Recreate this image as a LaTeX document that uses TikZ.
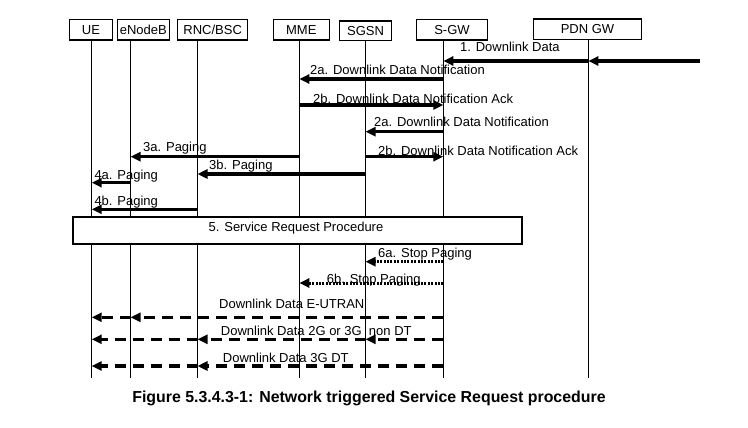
\documentclass[tikz,border=0pt]{standalone}
\usepackage{fontspec}
\setmainfont{Liberation Sans}
\usetikzlibrary{arrows.meta}
\begin{document}
\begin{tikzpicture}[x=1pt,y=-1pt,
  ent/.style={draw, line width=1.3pt, minimum height=20.7pt, inner sep=0pt, font=\fontsize{13}{15}\selectfont},
  life/.style={line width=0.9pt},
  msg/.style={line width=3.2pt, -{Triangle[length=10pt,width=9pt]}},
  dmsg/.style={msg, dash pattern=on 11pt off 7pt},
  smsg/.style={msg, line width=3pt, dash pattern=on 2pt off 1.4pt},
  lbl/.style={anchor=base west, inner sep=0pt, font=\fontsize{13}{15}\selectfont},
]
\useasboundingbox[fill=white] (0,0) rectangle (748,428);

% entities
\node[ent, minimum width=43.4pt] (ue) at (91,29.7) {UE};
\node[ent, minimum width=52pt] (enb) at (143.3,29.7) {eNodeB};
\node[ent, minimum width=70pt] (rnc) at (212.7,29.7) {RNC/BSC};
\node[ent, minimum width=56pt] (mme) at (301.3,29.7) {MME};
\node[ent, minimum width=52.4pt, minimum height=19.7pt] (sgsn) at (365.5,30.9) {SGSN};
\node[ent, minimum width=70.6pt] (sgw) at (452,29.7) {S-GW};
\node[ent, minimum width=108.4pt] (pgw) at (587.5,29.5) {PDN GW};

% lifelines
\coordinate (lue) at (91.7,40);
\coordinate (lenb) at (130.5,40);
\coordinate (lrnc) at (197.5,40);
\coordinate (lmme) at (299.3,40);
\coordinate (lsgsn) at (365.5,40.7);
\coordinate (lsgw) at (443.3,40);
\coordinate (lpgw) at (588.3,40);
\foreach \l in {lue,lenb,lrnc,lmme,lsgsn,lsgw,lpgw}
  \draw[life] (\l) -- (\l |- 0,378);

% 1
\coordinate (src) at (700,61);
\draw[msg] (src) -- (lpgw |- src);
\draw[msg] (lpgw |- src) -- (lsgw |- src);
\node[lbl] (t1) at (460,52) {1. Downlink Data};
% 2a / 2b MME
\draw[msg] (lsgw |- 0,79) -- (lmme |- 0,79);
\node[lbl] (t2a) at (310,74.8) {2a. Downlink Data Notification};
\draw[msg] (lmme |- 0,105) -- (lsgw |- 0,105);
\node[lbl] (t2b) at (313,103) {2b. Downlink Data Notification Ack};
% 2a / 2b SGSN
\draw[msg] (lsgw |- 0,131.7) -- (lsgsn |- 0,131.7);
\node[lbl] (t2c) at (374,126.5) {2a. Downlink Data Notification};
\draw[msg] (lsgsn |- 0,156.7) -- (lsgw |- 0,156.7);
\node[lbl] (t2d) at (378,156) {2b. Downlink Data Notification Ack};
% 3a / 3b
\draw[msg] (lmme |- 0,156.7) -- (lenb |- 0,156.7);
\node[lbl] (t3a) at (143,152) {3a. Paging};
\draw[msg] (lsgsn |- 0,174) -- (lrnc |- 0,174);
\node[lbl] (t3b) at (209,169.5) {3b. Paging};
% 4a / 4b
\draw[msg] (lenb |- 0,182.7) -- (lue |- 0,182.7);
\node[lbl] (t4a) at (94.3,179.5) {4a. Paging};
\draw[msg] (lrnc |- 0,209.3) -- (lue |- 0,209.3);
\node[lbl] (t4b) at (94.3,205.5) {4b. Paging};
% 5
\node[draw, fill=white, line width=1.3pt, minimum width=449pt, minimum height=27pt, inner sep=0pt,
  font=\fontsize{13}{15}\selectfont] (srp) at (297.5,230.5) {};
\node[anchor=base, inner sep=0pt, font=\fontsize{13}{15}\selectfont] (t5) at (296,231) {5. Service Request Procedure};
% 6a / 6b
\draw[smsg] (lsgw |- 0,261.7) -- (lsgsn |- 0,261.7);
\node[lbl] (t6a) at (378,257) {6a. Stop Paging};
\draw[smsg] (lsgw |- 0,283) -- (lmme |- 0,283);
\node[lbl] (t6b) at (326.7,283.3) {6b. Stop Paging};
% downlink data
\draw[dmsg] (lsgw |- 0,317.3) -- (lenb |- 0,317.3);
\draw[dmsg] (lenb |- 0,317.3) -- (lue |- 0,317.3);
\node[lbl] (tdl1) at (219,308.5) {Downlink Data E-UTRAN};
\draw[dmsg] (lsgw |- 0,339.3) -- (lsgsn |- 0,339.3);
\draw[dmsg] (lsgsn |- 0,339.3) -- (lrnc |- 0,339.3);
\draw[dmsg] (lrnc |- 0,339.3) -- (lue |- 0,339.3);
\node[lbl] (tdl2) at (220.7,335.5) {Downlink Data 2G or 3G\ \ non DT};
\draw[dmsg] (lsgw |- 0,366) -- (lrnc |- 0,366);
\draw[dmsg] (lrnc |- 0,366) -- (lue |- 0,366);
\node[lbl] (tdl3) at (222.7,362.5) {Downlink Data 3G DT};

% caption
\node[anchor=base, inner sep=0pt, font=\fontsize{15.9}{18}\selectfont\bfseries] (cap) at (369,402.5)
  {Figure 5.3.4.3-1: Network triggered Service Request procedure};
\end{tikzpicture}
\end{document}
